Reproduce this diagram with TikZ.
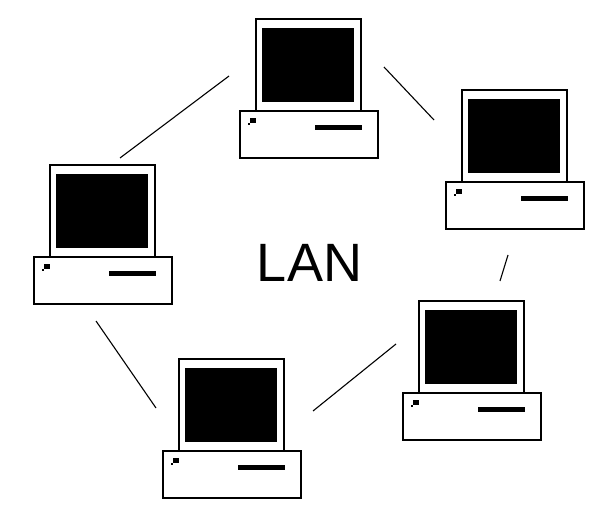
\documentclass[tikz,border=0pt]{standalone}
\usepackage{fontspec}
\setmainfont{Liberation Sans}
\tikzset{
    case/.style={draw=black, line width=1.8pt, fill=white},
    link/.style={draw=black, line width=1.1pt},
    pics/computer/.style={code={
        % Draw monitor and screen
        \draw[case] (16,-92) rectangle (121,0);
        \fill[black] (22,-83) rectangle (114,-9);
        % Draw the box below
        \draw[case] (0,-139) rectangle (138,-92);
        \fill[black] (75,-111) rectangle (122,-106);
        \fill[black] (10,-104) rectangle (16,-99);
        \fill[black] (8,-106) rectangle (10,-104);
    }}
}
\begin{document}
\begin{tikzpicture}[x=1pt, y=1pt]
    \useasboundingbox (0,0) rectangle (610,531);
    % Draw the computers
    \pic (top) at (240,512) {computer};
    \pic (right) at (446,441) {computer};
    \pic (left) at (34,366) {computer};
    \pic (lowleft) at (163,172) {computer};
    \pic (lowright) at (403,230) {computer};
    % Ends of the links
    \coordinate (a1) at (229,455);
    \coordinate (a2) at (120,373);
    \coordinate (b1) at (384,464);
    \coordinate (b2) at (434,411);
    \coordinate (c1) at (508,276);
    \coordinate (c2) at (500,250);
    \coordinate (d1) at (396,187);
    \coordinate (d2) at (313,120);
    \coordinate (e1) at (96,210);
    \coordinate (e2) at (156,123);
    \draw[link] (a1) -- (a2);
    \draw[link] (b1) -- (b2);
    \draw[link] (c1) -- (c2);
    \draw[link] (d1) -- (d2);
    \draw[link] (e1) -- (e2);
    % Label in the middle
    \node[inner sep=0pt] (lan) at (309.5,268.5) {\fontsize{54}{54}\selectfont LAN};
\end{tikzpicture}
\end{document}
